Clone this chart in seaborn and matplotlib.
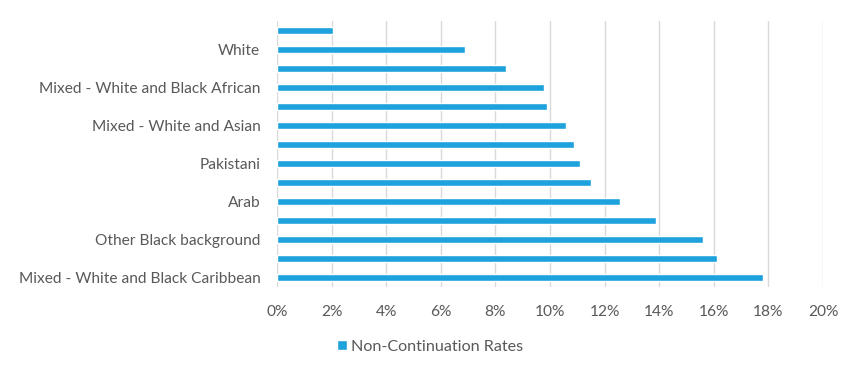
import matplotlib
matplotlib.use("Agg")
import matplotlib.pyplot as plt
import seaborn as sns
import pandas as pd
from matplotlib.ticker import FuncFormatter

categories = [
    "Chinese",
    "White",
    "Indian",
    "Mixed - White and Black African",
    "Other Asian background",
    "Mixed - White and Asian",
    "Other Mixed background",
    "Pakistani",
    "Bangladeshi",
    "Arab",
    "Black African",
    "Other Black background",
    "Black Caribbean",
    "Mixed - White and Black Caribbean",
]
rates = [2.05, 6.87, 8.37, 9.78, 9.88, 10.59, 10.89, 11.1, 11.5, 12.58, 13.9, 15.59, 16.1, 17.8]
# Excel shows only every other category label
tick_labels = [c if i % 2 == 1 else "" for i, c in enumerate(categories)]
series_name = "Non-Continuation Rates"
x_ticks = [0, 2, 4, 6, 8, 10, 12, 14, 16, 18, 20]

BAR = "#1DA2DE"
TXT = "#595959"
GRID = "#D9D9D9"

sns.set_theme(style="white")
plt.rcParams["font.family"] = ["Lato", "DejaVu Sans"]

df = pd.DataFrame({"category": categories, "rate": rates, "series": series_name})

fig = plt.figure(figsize=(8.5, 3.69), dpi=100)
ax = fig.add_axes([277 / 850, 1 - 287 / 369, (823 - 277) / 850, (287 - 21) / 369])

sns.barplot(data=df, x="rate", y="category", hue="series", palette=[BAR],
            order=categories, width=0.42, ax=ax, saturation=1, legend=True)

ax.set_xlim(0, 20)
ax.set_xticks(x_ticks)
ax.xaxis.set_major_formatter(FuncFormatter(lambda v, p: f"{v:.0f}%"))
ax.set_yticks(range(len(categories)))
ax.set_yticklabels(tick_labels)
ax.set_xlabel("")
ax.set_ylabel("")
for s in ax.spines.values():
    s.set_visible(False)
ax.grid(axis="x", color=GRID, linewidth=1)
ax.grid(axis="y", visible=False)
ax.set_axisbelow(True)
ax.tick_params(axis="x", length=0, pad=13, labelsize=11.2, labelcolor=TXT)
ax.tick_params(axis="y", length=0, pad=12, labelsize=11.2, labelcolor=TXT)

leg = ax.get_legend()
if leg is not None:
    leg.remove()
handles, labels = ax.get_legend_handles_labels()
fig.legend(handles, labels, loc="center", bbox_to_anchor=(0.506, 0.06),
           frameon=False, handlelength=0.6, handleheight=0.6, handletextpad=0.25,
           fontsize=11.6, labelcolor=TXT)

fig.savefig("out.png", dpi=100)
